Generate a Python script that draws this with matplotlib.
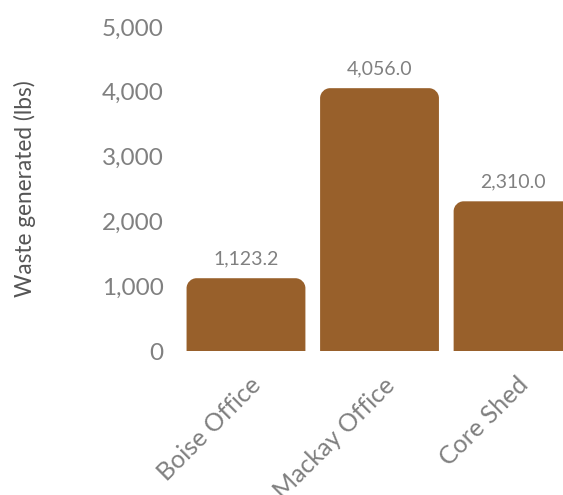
import matplotlib
matplotlib.use("Agg")
import matplotlib.pyplot as plt
import matplotlib.transforms as mtransforms
from matplotlib.path import Path
from matplotlib.patches import PathPatch

categories = ["Boise Office", "Mackay Office", "Core Shed"]
waste_lbs = [1123.2, 4056.0, 2310.0]
y_ticks = [0, 1000, 2000, 3000, 4000, 5000]

plt.rcParams["font.family"] = ["Lato", "DejaVu Sans"]

W, H = 563, 495
fig = plt.figure(figsize=(W / 100, H / 100), dpi=100)
# axes placed in pixels: left 172, right 563, bottom y=351, top y=27
ax = fig.add_axes([172 / W, (H - 351) / H, (563 - 172) / W, (351 - 27) / H])

bars = ax.bar(range(len(categories)), waste_lbs, width=0.89, color="none")
ax.set_xlim(-0.554, 2.374)
ax.set_ylim(0, 5000)

# rounded top corners, radius ~10 px converted to data units
rx = 10 / 133.5
ry = 10 / 64.8 * 1000
k = 0.55
for b in bars:
    x0, w, h = b.get_x(), b.get_width(), b.get_height()
    x1 = x0 + w
    verts = [
        (x0, 0), (x0, h - ry),
        (x0, h - ry + k * ry), (x0 + rx - k * rx, h), (x0 + rx, h),
        (x1 - rx, h),
        (x1 - rx + k * rx, h), (x1, h - ry + k * ry), (x1, h - ry),
        (x1, 0), (x0, 0),
    ]
    codes = [Path.MOVETO, Path.LINETO,
             Path.CURVE4, Path.CURVE4, Path.CURVE4,
             Path.LINETO,
             Path.CURVE4, Path.CURVE4, Path.CURVE4,
             Path.LINETO, Path.CLOSEPOLY]
    ax.add_patch(PathPatch(Path(verts, codes), facecolor="#98602b", edgecolor="none", clip_on=False))
    ax.annotate(f"{h:,.1f}", (b.get_x() + w / 2, h), xytext=(0, 8), textcoords="offset points",
                ha="center", va="bottom", fontsize=14, color="#808080")

for s in ax.spines.values():
    s.set_visible(False)
ax.tick_params(length=0)
ax.set_yticks(y_ticks)
ax.set_yticklabels([f"{t:,}" for t in y_ticks], fontsize=17.5, color="#808080")
ax.tick_params(axis="y", pad=6)
ax.set_xticks(range(len(categories)))
ax.set_xticklabels(categories, rotation=45, ha="right", va="top", rotation_mode="anchor",
                   fontsize=18, color="#808080")
ax.tick_params(axis="x", pad=16)
shift = mtransforms.ScaledTranslation(3 / 100, 0, fig.dpi_scale_trans)
for lab in ax.get_xticklabels():
    lab.set_transform(lab.get_transform() + shift)
ax.set_ylabel("Waste generated (lbs)", fontsize=16.3, color="#555555")
ax.yaxis.label.set_va("center")
ax.yaxis.set_label_coords(-0.375, 0.5)

fig.savefig("out.png", dpi=100)
